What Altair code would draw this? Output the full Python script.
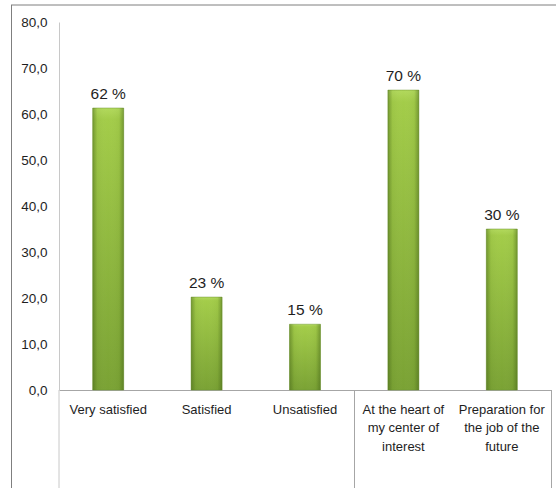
import altair as alt
import pandas as pd

categories = ["Very satisfied", "Satisfied", "Unsatisfied",
              "At the heart of|my center of|interest",
              "Preparation for|the job of the|future"]
values = [61.3, 20.2, 14.3, 65.2, 35.0]
labels = ["62 %", "23 %", "15 %", "70 %", "30 %"]

df = pd.DataFrame({"cat": categories, "value": values, "label": labels})

W, H = 492, 368
FONT = "Liberation Sans"

x_enc = alt.X("cat:N", sort=None, title=None,
              scale=alt.Scale(paddingInner=0.685, paddingOuter=0.3425),
              axis=alt.Axis(labelAngle=0, tickSize=0, ticks=False, domainColor="#a6a6a6",
                            labelExpr="split(datum.label, '|')", labelLineHeight=18.5,
                            labelPadding=13, labelFontSize=13, labelFont=FONT,
                            labelColor="#1e1e1e", labelBaseline="top"))
y_enc = alt.Y("value:Q", title=None,
              scale=alt.Scale(domain=[0, 80]),
              axis=alt.Axis(values=[0, 10, 20, 30, 40, 50, 60, 70, 80], grid=False, ticks=False,
                            domainColor="#c8c8c8", labelPadding=12, labelFontSize=13.5,
                            labelFont=FONT, labelColor="#1e1e1e",
                            labelExpr="replace(format(datum.value, '.1f'), '.', ',')"))

base = alt.Chart(df)

bars = base.mark_bar(
    color=alt.Gradient(gradient="linear", x1=0, x2=0, y1=0, y2=1,
                       stops=[alt.GradientStop(offset=0, color="#b2d95c"),
                              alt.GradientStop(offset=0.04, color="#a3cc49"),
                              alt.GradientStop(offset=1, color="#7aa234")]),
    stroke="#6e9630", strokeWidth=0.5
).encode(x=x_enc, y=y_enc)

shade = base.mark_bar(
    color=alt.Gradient(gradient="linear", x1=0, x2=1, y1=0, y2=0,
                       stops=[alt.GradientStop(offset=0, color="rgba(60,90,20,0.45)"),
                              alt.GradientStop(offset=0.15, color="rgba(60,90,20,0.05)"),
                              alt.GradientStop(offset=0.5, color="rgba(255,255,255,0.0)"),
                              alt.GradientStop(offset=0.85, color="rgba(60,90,20,0.05)"),
                              alt.GradientStop(offset=1, color="rgba(60,90,20,0.45)")])
).encode(x=alt.X("cat:N", sort=None), y="value:Q")

text = base.mark_text(dy=-14, fontSize=15.5, font=FONT, color="#1e1e1e").encode(
    x=alt.X("cat:N", sort=None), y="value:Q", text="label:N")

def vrule(x, y1, y2, color):
    return alt.Chart(pd.DataFrame({"a": [0]})).mark_rule(color=color, strokeWidth=1).encode(
        x=alt.value(x), y=alt.value(y1), y2=alt.value(y2))

def hrule(y, x1, x2, color):
    return alt.Chart(pd.DataFrame({"a": [0]})).mark_rule(color=color, strokeWidth=1).encode(
        y=alt.value(y), x=alt.value(x1), x2=alt.value(x2))

deco = [
    vrule(0, H, 470, "#c8c8c8"),
    vrule(295.5, H, 470, "#a6a6a6"),
    vrule(492.5, H, 470, "#a6a6a6"),
    vrule(-47.5, -17, 470, "#7f7f7f"),
    hrule(-17, -48, 500, "#7f7f7f"),
]

chart = alt.layer(bars, shade, text, *deco).properties(
    width=W, height=H,
    autosize=alt.AutoSizeParams(type="none"),
    padding={"left": 59, "top": 22, "right": 5, "bottom": 98},
    background="white",
).configure_view(stroke=None)

chart.save("out.html", embed_options={"renderer": "svg", "actions": False})
